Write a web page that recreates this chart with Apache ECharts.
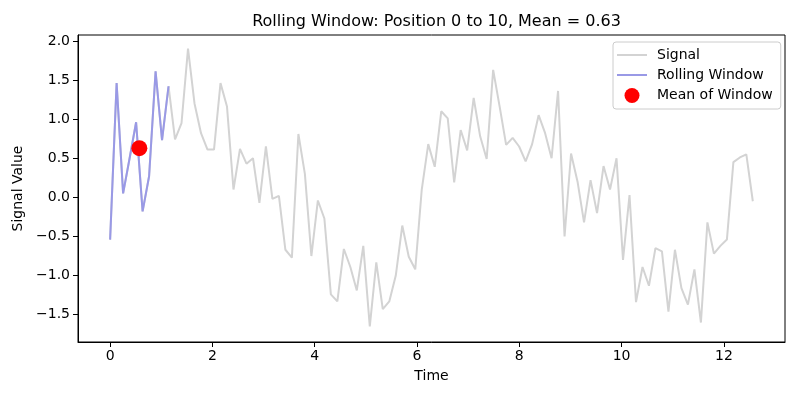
<!DOCTYPE html>
<html>
<head>
<meta charset="utf-8">
<script src="https://cdn.jsdelivr.net/npm/echarts@6/dist/echarts.min.js"></script>
<style>html,body{margin:0;padding:0;background:#fff}#c{width:800px;height:400px}</style>
</head>
<body>
<div id="c"></div>
<script>
const times = [
  0, 0.127, 0.254, 0.381, 0.508, 0.635, 0.762, 0.889, 1.015, 1.142,
  1.269, 1.396, 1.523, 1.650, 1.777, 1.904, 2.031, 2.158, 2.285, 2.412,
  2.539, 2.666, 2.793, 2.919, 3.046, 3.173, 3.300, 3.427, 3.554, 3.681,
  3.808, 3.935, 4.062, 4.189, 4.316, 4.443, 4.570, 4.697, 4.823, 4.950,
  5.077, 5.204, 5.331, 5.458, 5.585, 5.712, 5.839, 5.966, 6.093, 6.220,
  6.347, 6.474, 6.601, 6.727, 6.854, 6.981, 7.108, 7.235, 7.362, 7.489,
  7.616, 7.743, 7.870, 7.997, 8.124, 8.251, 8.378, 8.505, 8.631, 8.758,
  8.885, 9.012, 9.139, 9.266, 9.393, 9.520, 9.647, 9.774, 9.901, 10.028,
  10.155, 10.282, 10.409, 10.535, 10.662, 10.789, 10.916, 11.043, 11.170, 11.297,
  11.424, 11.551, 11.678, 11.805, 11.932, 12.059, 12.186, 12.313, 12.439, 12.566
];
const signal = [
  -0.54, 1.46, 0.05, 0.50, 0.96, -0.18, 0.27, 1.61, 0.73, 1.42,
  0.74, 0.95, 1.90, 1.20, 0.82, 0.61, 0.61, 1.46, 1.16, 0.10,
  0.62, 0.43, 0.50, -0.07, 0.65, -0.02, 0.02, -0.67, -0.77, 0.81,
  0.30, -0.75, -0.04, -0.27, -1.24, -1.33, -0.66, -0.89, -1.19, -0.62,
  -1.65, -0.83, -1.43, -1.33, -1.00, -0.36, -0.76, -0.92, 0.10, 0.68,
  0.39, 1.10, 1.01, 0.19, 0.86, 0.60, 1.27, 0.78, 0.49, 1.63,
  1.16, 0.67, 0.76, 0.65, 0.46, 0.68, 1.05, 0.82, 0.50, 1.36,
  -0.50, 0.56, 0.20, -0.32, 0.22, -0.20, 0.40, 0.10, 0.50, -0.80,
  0.03, -1.34, -0.89, -1.13, -0.65, -0.69, -1.46, -0.67, -1.16, -1.37,
  -0.92, -1.60, -0.32, -0.72, -0.62, -0.54, 0.45, 0.51, 0.55, -0.05
];
const windowStart = 0;
const windowEnd = 10;
const xTicks = [0, 2, 4, 6, 8, 10, 12];
const yTicks = [-1.5, -1.0, -0.5, 0.0, 0.5, 1.0, 1.5, 2.0];
const titleText = 'Rolling Window: Position 0 to 10, Mean = 0.63';

const signalData = times.map((t, i) => [t, signal[i]]);
const windowData = signalData.slice(windowStart, windowEnd);
const meanX = windowData.reduce((s, p) => s + p[0], 0) / windowData.length;
const meanY = windowData.reduce((s, p) => s + p[1], 0) / windowData.length;

const FONT = 'DejaVu Sans';
const fmt = v => (Math.abs(v) < 1e-9 ? '0.0' : v.toFixed(1)).replace('-', '\u2212');

const chart = echarts.init(document.getElementById('c'), null, {renderer: 'canvas'});
chart.setOption({
  animation: false,
  backgroundColor: '#ffffff',
  textStyle: {fontFamily: FONT},
  title: {
    text: titleText,
    left: 431.5, top: 9, textAlign: 'center',
    textStyle: {fontFamily: FONT, fontSize: 16, fontWeight: 'normal', color: '#000'}
  },
  grid: {left: 78, right: 15, top: 35, bottom: 58, show: true, borderColor: '#000', borderWidth: 1, backgroundColor: 'transparent'},
  legend: {
    orient: 'vertical',
    left: 613, top: 42,
    padding: [6, 8, 6, 4],
    itemGap: 6,
    itemWidth: 30, itemHeight: 15,
    borderColor: '#cccccc', borderWidth: 1, borderRadius: 3,
    backgroundColor: 'rgba(255,255,255,0.8)',
    textStyle: {fontFamily: FONT, fontSize: 14, color: '#000', padding: [0, 0, 0, 5]},
    data: [
      {name: 'Signal', icon: 'path://M0,0h30v2h-30z', itemStyle: {color: '#d3d3d3'}},
      {name: 'Rolling Window', icon: 'path://M0,0h30v2h-30z', itemStyle: {color: '#9999e6'}},
      {name: 'Mean of Window', icon: 'circle', itemStyle: {color: '#ff0000', opacity: 1}}
    ]
  },
  xAxis: {
    type: 'value', min: -0.628, max: 13.195,
    name: 'Time', nameLocation: 'middle', nameGap: 27,
    nameTextStyle: {fontFamily: FONT, fontSize: 14, color: '#000'},
    axisLine: {show: true, onZero: false, lineStyle: {color: '#000', width: 1}},
    axisTick: {show: true, length: 5, lineStyle: {color: '#000'}, customValues: xTicks},
    axisLabel: {fontFamily: FONT, fontSize: 14, color: '#000', margin: 7, customValues: xTicks, formatter: v => String(v)},
    splitLine: {show: false}
  },
  yAxis: {
    type: 'value', min: -1.849, max: 2.075,
    name: 'Signal Value', nameLocation: 'middle', nameGap: 42, nameRotate: 90,
    nameTextStyle: {fontFamily: FONT, fontSize: 14, color: '#000'},
    axisLine: {show: true, onZero: false, lineStyle: {color: '#000', width: 1}},
    axisTick: {show: true, length: 5, lineStyle: {color: '#000'}, customValues: yTicks},
    axisLabel: {fontFamily: FONT, fontSize: 14, color: '#000', margin: 8, customValues: yTicks, formatter: fmt},
    splitLine: {show: false}
  },
  series: [
    {
      name: 'Signal', type: 'line', data: signalData, showSymbol: false, symbol: 'none',
      lineStyle: {color: '#d3d3d3', width: 2}, itemStyle: {color: '#d3d3d3'}, z: 2
    },
    {
      name: 'Rolling Window', type: 'line', data: windowData, showSymbol: false, symbol: 'none',
      lineStyle: {color: '#9999e6', width: 2}, itemStyle: {color: '#9999e6'}, z: 3
    },
    {
      name: 'Mean of Window', type: 'scatter', data: [[meanX, meanY]], symbolSize: 16,
      itemStyle: {color: '#ff0000', opacity: 1}, z: 4
    }
  ]
});
</script>
</body>
</html>
